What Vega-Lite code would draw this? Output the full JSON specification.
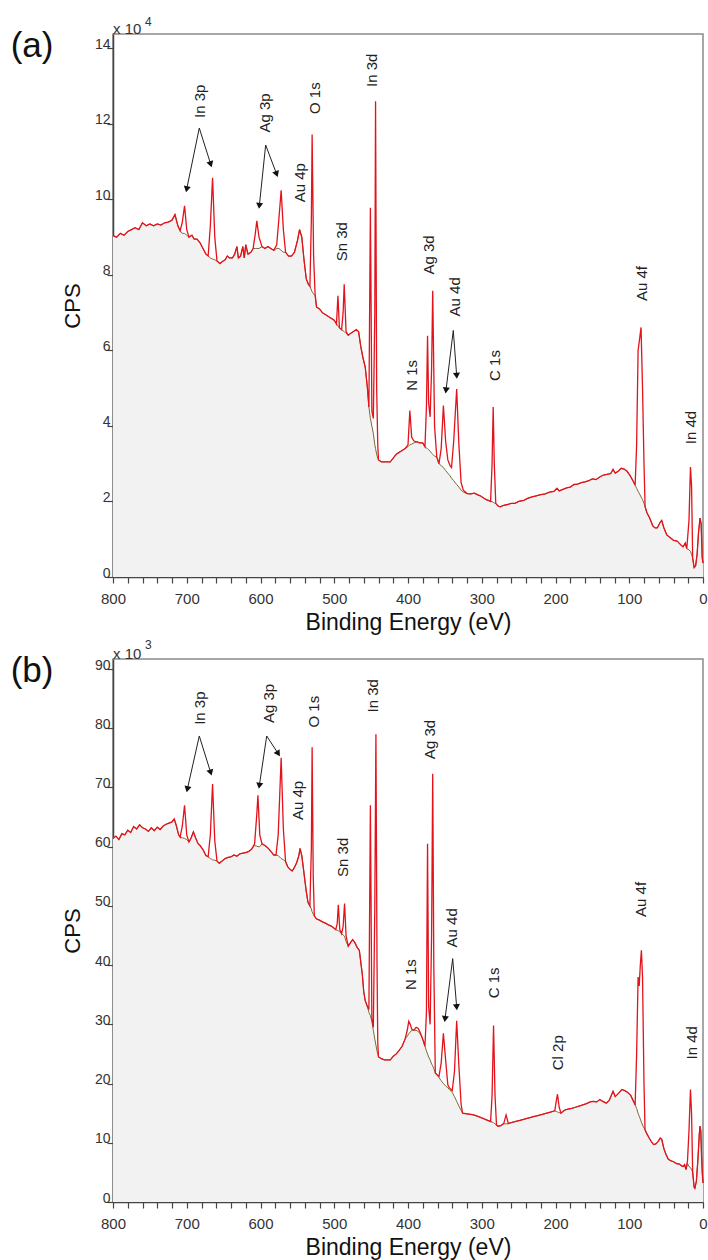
{
"$schema": "https://vega.github.io/schema/vega-lite/v6.json",
"padding": {"left": 9, "top": 14, "right": 2, "bottom": 0},
"spacing": 3,
"config": {
  "font": "Liberation Sans",
  "view": {"stroke": "#8a8a8a", "strokeWidth": 1.5},
  "axis": {"grid": false, "domainColor": "#444444", "domainWidth": 1.5, "tickColor": "#444444", "tickWidth": 1.2, "labelColor": "#333333", "labelFont": "Liberation Sans", "titleFont": "Liberation Sans", "titleFontWeight": "normal", "titleColor": "#111111"}
},
"datasets": {
"spec": [
{"p":"a","E":800,"c":9.04,"b":9.04},{"p":"a","E":795,"c":9.0,"b":9.0},{"p":"a","E":790,"c":9.1,"b":9.1},{"p":"a","E":785,"c":9.05,"b":9.05},{"p":"a","E":780,"c":9.15,"b":9.15},{"p":"a","E":775,"c":9.2,"b":9.2},{"p":"a","E":770,"c":9.25,"b":9.25},{"p":"a","E":765,"c":9.2,"b":9.2},{"p":"a","E":760,"c":9.38,"b":9.38},{"p":"a","E":755,"c":9.3,"b":9.3},{"p":"a","E":750,"c":9.35,"b":9.35},{"p":"a","E":745,"c":9.3,"b":9.3},{"p":"a","E":740,"c":9.35,"b":9.35},{"p":"a","E":735,"c":9.32,"b":9.32},{"p":"a","E":730,"c":9.38,"b":9.38},{"p":"a","E":725,"c":9.4,"b":9.4},{"p":"a","E":720,"c":9.45,"b":9.45},{"p":"a","E":716,"c":9.6,"b":9.6},{"p":"a","E":712,"c":9.3,"b":9.3},{"p":"a","E":709,"c":9.17,"b":9.17},{"p":"a","E":706,"c":9.4,"b":9.1},{"p":"a","E":703,"c":9.83,"b":9.1},{"p":"a","E":700,"c":9.2,"b":9.05},{"p":"a","E":697,"c":9.0,"b":9.0},{"p":"a","E":693,"c":9.05,"b":9.05},{"p":"a","E":690,"c":8.95,"b":8.95},{"p":"a","E":686,"c":8.95,"b":8.95},{"p":"a","E":682,"c":8.85,"b":8.85},{"p":"a","E":678,"c":8.7,"b":8.7},{"p":"a","E":674,"c":8.55,"b":8.55},{"p":"a","E":671,"c":8.5,"b":8.5},{"p":"a","E":668,"c":9.3,"b":8.45},{"p":"a","E":665,"c":10.57,"b":8.42},{"p":"a","E":662,"c":9.0,"b":8.4},{"p":"a","E":659,"c":8.37,"b":8.37},{"p":"a","E":655,"c":8.3,"b":8.3},{"p":"a","E":652,"c":8.35,"b":8.35},{"p":"a","E":648,"c":8.4,"b":8.4},{"p":"a","E":645,"c":8.5,"b":8.5},{"p":"a","E":642,"c":8.45,"b":8.45},{"p":"a","E":638,"c":8.45,"b":8.45},{"p":"a","E":635,"c":8.55,"b":8.55},{"p":"a","E":632,"c":8.75,"b":8.75},{"p":"a","E":630,"c":8.45,"b":8.45},{"p":"a","E":627,"c":8.5,"b":8.5},{"p":"a","E":624,"c":8.75,"b":8.75},{"p":"a","E":622,"c":8.45,"b":8.45},{"p":"a","E":620,"c":8.8,"b":8.8},{"p":"a","E":617,"c":8.55,"b":8.55},{"p":"a","E":613,"c":8.6,"b":8.6},{"p":"a","E":610,"c":8.7,"b":8.7},{"p":"a","E":607,"c":9.1,"b":8.7},{"p":"a","E":605,"c":9.43,"b":8.7},{"p":"a","E":602,"c":9.0,"b":8.7},{"p":"a","E":598,"c":8.75,"b":8.75},{"p":"a","E":594,"c":8.7,"b":8.7},{"p":"a","E":590,"c":8.75,"b":8.75},{"p":"a","E":586,"c":8.7,"b":8.7},{"p":"a","E":582,"c":8.65,"b":8.65},{"p":"a","E":578,"c":8.8,"b":8.7},{"p":"a","E":575,"c":9.5,"b":8.7},{"p":"a","E":572,"c":10.24,"b":8.65},{"p":"a","E":569,"c":9.2,"b":8.6},{"p":"a","E":566,"c":8.6,"b":8.6},{"p":"a","E":562,"c":8.5,"b":8.5},{"p":"a","E":558,"c":8.5,"b":8.5},{"p":"a","E":554,"c":8.6,"b":8.6},{"p":"a","E":550,"c":8.9,"b":8.9},{"p":"a","E":547,"c":9.2,"b":9.2},{"p":"a","E":544,"c":9.0,"b":9.0},{"p":"a","E":541,"c":8.4,"b":8.4},{"p":"a","E":538,"c":7.9,"b":7.9},{"p":"a","E":535,"c":7.75,"b":7.75},{"p":"a","E":533,"c":7.7,"b":7.7},{"p":"a","E":531,"c":9.5,"b":7.6},{"p":"a","E":530,"c":11.72,"b":7.55},{"p":"a","E":528,"c":8.5,"b":7.5},{"p":"a","E":526,"c":7.5,"b":7.45},{"p":"a","E":524,"c":7.15,"b":7.15},{"p":"a","E":520,"c":7.1,"b":7.1},{"p":"a","E":516,"c":7.0,"b":7.0},{"p":"a","E":512,"c":6.95,"b":6.95},{"p":"a","E":508,"c":6.9,"b":6.9},{"p":"a","E":504,"c":6.85,"b":6.85},{"p":"a","E":500,"c":6.8,"b":6.8},{"p":"a","E":497,"c":6.7,"b":6.7},{"p":"a","E":495,"c":7.45,"b":6.65},{"p":"a","E":493,"c":6.6,"b":6.6},{"p":"a","E":490,"c":6.55,"b":6.55},{"p":"a","E":488,"c":7.0,"b":6.52},{"p":"a","E":486.5,"c":7.75,"b":6.5},{"p":"a","E":484,"c":6.5,"b":6.45},{"p":"a","E":481,"c":6.4,"b":6.4},{"p":"a","E":478,"c":6.45,"b":6.45},{"p":"a","E":474,"c":6.5,"b":6.5},{"p":"a","E":470,"c":6.55,"b":6.55},{"p":"a","E":467,"c":6.5,"b":6.5},{"p":"a","E":464,"c":6.1,"b":6.1},{"p":"a","E":461,"c":5.8,"b":5.8},{"p":"a","E":458,"c":5.56,"b":5.56},{"p":"a","E":455,"c":5.0,"b":5.0},{"p":"a","E":453,"c":4.5,"b":4.5},{"p":"a","E":451,"c":9.78,"b":4.2},{"p":"a","E":449,"c":4.4,"b":4.0},{"p":"a","E":447,"c":4.2,"b":3.8},{"p":"a","E":445,"c":7.0,"b":3.5},{"p":"a","E":444,"c":12.6,"b":3.4},{"p":"a","E":442.5,"c":5.0,"b":3.25},{"p":"a","E":441,"c":3.5,"b":3.15},{"p":"a","E":440,"c":3.1,"b":3.1},{"p":"a","E":436,"c":3.05,"b":3.05},{"p":"a","E":432,"c":3.05,"b":3.05},{"p":"a","E":428,"c":3.05,"b":3.05},{"p":"a","E":424,"c":3.05,"b":3.05},{"p":"a","E":420,"c":3.15,"b":3.15},{"p":"a","E":416,"c":3.25,"b":3.25},{"p":"a","E":412,"c":3.3,"b":3.3},{"p":"a","E":408,"c":3.35,"b":3.35},{"p":"a","E":404,"c":3.4,"b":3.4},{"p":"a","E":400,"c":3.5,"b":3.45},{"p":"a","E":397.5,"c":4.41,"b":3.5},{"p":"a","E":395,"c":3.7,"b":3.52},{"p":"a","E":392,"c":3.6,"b":3.55},{"p":"a","E":388,"c":3.58,"b":3.58},{"p":"a","E":384,"c":3.55,"b":3.55},{"p":"a","E":380,"c":3.55,"b":3.55},{"p":"a","E":377,"c":3.45,"b":3.45},{"p":"a","E":375,"c":4.5,"b":3.42},{"p":"a","E":373.5,"c":6.39,"b":3.4},{"p":"a","E":372,"c":4.6,"b":3.37},{"p":"a","E":370,"c":4.24,"b":3.33},{"p":"a","E":368,"c":5.5,"b":3.28},{"p":"a","E":366.5,"c":7.58,"b":3.25},{"p":"a","E":364,"c":4.0,"b":3.2},{"p":"a","E":361,"c":3.18,"b":3.18},{"p":"a","E":358,"c":3.0,"b":3.0},{"p":"a","E":355,"c":3.4,"b":2.95},{"p":"a","E":352,"c":4.54,"b":2.9},{"p":"a","E":349,"c":3.6,"b":2.82},{"p":"a","E":346,"c":3.1,"b":2.75},{"p":"a","E":343,"c":2.95,"b":2.68},{"p":"a","E":341,"c":2.9,"b":2.62},{"p":"a","E":338,"c":3.6,"b":2.55},{"p":"a","E":334,"c":4.98,"b":2.45},{"p":"a","E":331,"c":3.5,"b":2.38},{"p":"a","E":328,"c":2.5,"b":2.3},{"p":"a","E":325,"c":2.3,"b":2.25},{"p":"a","E":320,"c":2.21,"b":2.21},{"p":"a","E":315,"c":2.2,"b":2.2},{"p":"a","E":310,"c":2.22,"b":2.22},{"p":"a","E":306,"c":2.18,"b":2.18},{"p":"a","E":302,"c":2.15,"b":2.15},{"p":"a","E":298,"c":2.1,"b":2.1},{"p":"a","E":294,"c":2.05,"b":2.05},{"p":"a","E":291,"c":2.03,"b":2.03},{"p":"a","E":288,"c":2.0,"b":2.0},{"p":"a","E":286,"c":3.0,"b":2.0},{"p":"a","E":284.5,"c":4.5,"b":1.98},{"p":"a","E":283,"c":3.0,"b":1.96},{"p":"a","E":281,"c":1.95,"b":1.95},{"p":"a","E":278,"c":1.88,"b":1.88},{"p":"a","E":275,"c":1.86,"b":1.86},{"p":"a","E":270,"c":1.9,"b":1.9},{"p":"a","E":265,"c":1.92,"b":1.92},{"p":"a","E":260,"c":1.95,"b":1.95},{"p":"a","E":255,"c":1.95,"b":1.95},{"p":"a","E":250,"c":2.0,"b":2.0},{"p":"a","E":243,"c":2.03,"b":2.03},{"p":"a","E":238,"c":2.08,"b":2.08},{"p":"a","E":232,"c":2.12,"b":2.12},{"p":"a","E":226,"c":2.15,"b":2.15},{"p":"a","E":220,"c":2.18,"b":2.18},{"p":"a","E":214,"c":2.2,"b":2.2},{"p":"a","E":208,"c":2.25,"b":2.25},{"p":"a","E":202,"c":2.27,"b":2.27},{"p":"a","E":198,"c":2.35,"b":2.35},{"p":"a","E":195,"c":2.28,"b":2.28},{"p":"a","E":190,"c":2.32,"b":2.32},{"p":"a","E":185,"c":2.36,"b":2.36},{"p":"a","E":180,"c":2.38,"b":2.38},{"p":"a","E":175,"c":2.45,"b":2.45},{"p":"a","E":170,"c":2.46,"b":2.46},{"p":"a","E":165,"c":2.5,"b":2.5},{"p":"a","E":160,"c":2.52,"b":2.52},{"p":"a","E":155,"c":2.55,"b":2.55},{"p":"a","E":150,"c":2.6,"b":2.6},{"p":"a","E":145,"c":2.58,"b":2.58},{"p":"a","E":140,"c":2.65,"b":2.65},{"p":"a","E":135,"c":2.7,"b":2.7},{"p":"a","E":130,"c":2.72,"b":2.72},{"p":"a","E":125,"c":2.74,"b":2.74},{"p":"a","E":122,"c":2.85,"b":2.85},{"p":"a","E":119,"c":2.75,"b":2.75},{"p":"a","E":115,"c":2.8,"b":2.8},{"p":"a","E":111,"c":2.88,"b":2.88},{"p":"a","E":107,"c":2.86,"b":2.86},{"p":"a","E":103,"c":2.8,"b":2.8},{"p":"a","E":99,"c":2.69,"b":2.69},{"p":"a","E":95,"c":2.55,"b":2.55},{"p":"a","E":92,"c":2.43,"b":2.43},{"p":"a","E":90,"c":3.5,"b":2.35},{"p":"a","E":88,"c":6.0,"b":2.27},{"p":"a","E":86,"c":6.3,"b":2.2},{"p":"a","E":84,"c":6.61,"b":2.12},{"p":"a","E":82,"c":5.0,"b":2.05},{"p":"a","E":80,"c":3.0,"b":1.95},{"p":"a","E":78.5,"c":1.86,"b":1.86},{"p":"a","E":76,"c":1.7,"b":1.7},{"p":"a","E":72,"c":1.55,"b":1.55},{"p":"a","E":68,"c":1.35,"b":1.35},{"p":"a","E":65,"c":1.3,"b":1.3},{"p":"a","E":62,"c":1.3,"b":1.3},{"p":"a","E":58,"c":1.45,"b":1.45},{"p":"a","E":56,"c":1.5,"b":1.5},{"p":"a","E":53,"c":1.3,"b":1.3},{"p":"a","E":49,"c":1.11,"b":1.11},{"p":"a","E":45,"c":1.05,"b":1.05},{"p":"a","E":40,"c":0.97,"b":0.97},{"p":"a","E":35,"c":0.95,"b":0.95},{"p":"a","E":30,"c":0.85,"b":0.85},{"p":"a","E":27,"c":0.8,"b":0.8},{"p":"a","E":24,"c":0.9,"b":0.9},{"p":"a","E":22,"c":0.75,"b":0.75},{"p":"a","E":19,"c":1.5,"b":0.72},{"p":"a","E":17,"c":2.91,"b":0.68},{"p":"a","E":15.5,"c":2.4,"b":0.6},{"p":"a","E":14,"c":0.5,"b":0.5},{"p":"a","E":12,"c":0.25,"b":0.25},{"p":"a","E":10,"c":0.3,"b":0.3},{"p":"a","E":8,"c":0.6,"b":0.6},{"p":"a","E":6,"c":1.2,"b":1.2},{"p":"a","E":4,"c":1.56,"b":1.56},{"p":"a","E":2.5,"c":1.4,"b":1.4},{"p":"a","E":1,"c":0.5,"b":0.5},{"p":"a","E":0,"c":0.37,"b":0.37},
{"p":"b","E":800,"c":61.4,"b":61.4},{"p":"b","E":796,"c":61.8,"b":61.8},{"p":"b","E":792,"c":61.2,"b":61.2},{"p":"b","E":788,"c":62.2,"b":62.2},{"p":"b","E":784,"c":62.0,"b":62.0},{"p":"b","E":780,"c":62.8,"b":62.8},{"p":"b","E":776,"c":62.4,"b":62.4},{"p":"b","E":772,"c":63.4,"b":63.4},{"p":"b","E":768,"c":63.0,"b":63.0},{"p":"b","E":764,"c":63.7,"b":63.7},{"p":"b","E":760,"c":63.2,"b":63.2},{"p":"b","E":756,"c":63.0,"b":63.0},{"p":"b","E":752,"c":62.6,"b":62.6},{"p":"b","E":748,"c":63.2,"b":63.2},{"p":"b","E":744,"c":62.7,"b":62.7},{"p":"b","E":740,"c":63.3,"b":63.3},{"p":"b","E":736,"c":62.9,"b":62.9},{"p":"b","E":732,"c":63.5,"b":63.5},{"p":"b","E":728,"c":63.8,"b":63.8},{"p":"b","E":724,"c":64.0,"b":64.0},{"p":"b","E":720,"c":64.2,"b":64.2},{"p":"b","E":717,"c":64.7,"b":64.7},{"p":"b","E":714,"c":63.5,"b":63.5},{"p":"b","E":711,"c":62.0,"b":62.0},{"p":"b","E":709,"c":61.6,"b":61.6},{"p":"b","E":706,"c":63.5,"b":61.5},{"p":"b","E":703,"c":67.0,"b":61.4},{"p":"b","E":700,"c":62.0,"b":61.2},{"p":"b","E":697,"c":60.8,"b":60.8},{"p":"b","E":694,"c":61.5,"b":61.5},{"p":"b","E":691,"c":62.5,"b":62.5},{"p":"b","E":688,"c":61.5,"b":61.5},{"p":"b","E":685,"c":60.6,"b":60.6},{"p":"b","E":682,"c":60.2,"b":60.2},{"p":"b","E":678,"c":59.5,"b":59.5},{"p":"b","E":674,"c":58.5,"b":58.5},{"p":"b","E":671,"c":58.3,"b":58.3},{"p":"b","E":668,"c":62.0,"b":58.0},{"p":"b","E":665,"c":70.6,"b":57.8},{"p":"b","E":662,"c":61.0,"b":57.7},{"p":"b","E":659,"c":57.6,"b":57.6},{"p":"b","E":656,"c":57.2,"b":57.2},{"p":"b","E":652,"c":57.6,"b":57.6},{"p":"b","E":648,"c":58.0,"b":58.0},{"p":"b","E":644,"c":58.2,"b":58.2},{"p":"b","E":640,"c":58.3,"b":58.3},{"p":"b","E":636,"c":58.6,"b":58.6},{"p":"b","E":632,"c":58.4,"b":58.4},{"p":"b","E":628,"c":58.8,"b":58.8},{"p":"b","E":624,"c":58.9,"b":58.9},{"p":"b","E":620,"c":59.0,"b":59.0},{"p":"b","E":616,"c":59.2,"b":59.2},{"p":"b","E":612,"c":59.6,"b":59.6},{"p":"b","E":608,"c":60.5,"b":60.2},{"p":"b","E":605,"c":65.5,"b":60.1},{"p":"b","E":603.5,"c":68.7,"b":60.0},{"p":"b","E":601,"c":62.0,"b":60.0},{"p":"b","E":598,"c":60.5,"b":60.5},{"p":"b","E":594,"c":60.2,"b":60.2},{"p":"b","E":590,"c":59.8,"b":59.8},{"p":"b","E":586,"c":59.2,"b":59.2},{"p":"b","E":582,"c":58.6,"b":58.6},{"p":"b","E":579,"c":58.6,"b":58.6},{"p":"b","E":576,"c":62.0,"b":58.5},{"p":"b","E":572,"c":75.0,"b":58.0},{"p":"b","E":569,"c":63.0,"b":57.8},{"p":"b","E":566,"c":57.5,"b":57.5},{"p":"b","E":563,"c":56.6,"b":56.6},{"p":"b","E":560,"c":56.2,"b":56.2},{"p":"b","E":557,"c":55.9,"b":55.9},{"p":"b","E":554,"c":56.5,"b":56.5},{"p":"b","E":551,"c":57.3,"b":57.3},{"p":"b","E":548,"c":58.5,"b":58.5},{"p":"b","E":546.4,"c":59.7,"b":59.7},{"p":"b","E":544,"c":58.5,"b":58.5},{"p":"b","E":541,"c":55.5,"b":55.5},{"p":"b","E":538,"c":52.5,"b":52.5},{"p":"b","E":535.6,"c":50.6,"b":50.6},{"p":"b","E":533,"c":50.0,"b":50.0},{"p":"b","E":531,"c":60.0,"b":49.5},{"p":"b","E":530,"c":76.8,"b":49.0},{"p":"b","E":528.5,"c":55.0,"b":48.6},{"p":"b","E":527,"c":48.3,"b":48.3},{"p":"b","E":524,"c":47.8,"b":47.8},{"p":"b","E":520,"c":47.6,"b":47.6},{"p":"b","E":516,"c":47.3,"b":47.3},{"p":"b","E":512,"c":47.1,"b":47.1},{"p":"b","E":508,"c":46.8,"b":46.8},{"p":"b","E":504,"c":46.6,"b":46.6},{"p":"b","E":501,"c":46.3,"b":46.3},{"p":"b","E":498,"c":46.0,"b":46.0},{"p":"b","E":496,"c":47.0,"b":45.9},{"p":"b","E":494.5,"c":50.2,"b":45.8},{"p":"b","E":492.5,"c":46.0,"b":45.6},{"p":"b","E":490,"c":45.3,"b":45.3},{"p":"b","E":488,"c":46.5,"b":45.1},{"p":"b","E":486,"c":50.4,"b":44.9},{"p":"b","E":484,"c":45.0,"b":44.0},{"p":"b","E":481,"c":43.2,"b":43.2},{"p":"b","E":478,"c":43.8,"b":43.8},{"p":"b","E":475,"c":44.3,"b":44.3},{"p":"b","E":472,"c":43.8,"b":43.8},{"p":"b","E":469,"c":43.0,"b":43.0},{"p":"b","E":466,"c":42.5,"b":42.5},{"p":"b","E":462,"c":38.5,"b":38.5},{"p":"b","E":460,"c":35.5,"b":35.5},{"p":"b","E":458,"c":34.0,"b":34.0},{"p":"b","E":455,"c":33.0,"b":33.0},{"p":"b","E":453,"c":32.5,"b":32.0},{"p":"b","E":451,"c":67.0,"b":31.5},{"p":"b","E":449,"c":31.0,"b":30.5},{"p":"b","E":447,"c":29.5,"b":29.0},{"p":"b","E":445,"c":50.0,"b":27.5},{"p":"b","E":443.5,"c":79.0,"b":26.5},{"p":"b","E":442,"c":40.0,"b":25.5},{"p":"b","E":441,"c":27.0,"b":25.0},{"p":"b","E":440,"c":24.5,"b":24.5},{"p":"b","E":436,"c":24.2,"b":24.2},{"p":"b","E":432,"c":24.0,"b":24.0},{"p":"b","E":428,"c":24.0,"b":24.0},{"p":"b","E":424,"c":24.0,"b":24.0},{"p":"b","E":420,"c":24.6,"b":24.6},{"p":"b","E":416,"c":25.0,"b":25.0},{"p":"b","E":412,"c":25.6,"b":25.6},{"p":"b","E":408,"c":26.3,"b":26.3},{"p":"b","E":404,"c":27.5,"b":27.5},{"p":"b","E":401,"c":29.0,"b":28.0},{"p":"b","E":399,"c":30.5,"b":28.4},{"p":"b","E":397,"c":30.0,"b":28.7},{"p":"b","E":395,"c":29.2,"b":29.0},{"p":"b","E":392,"c":29.0,"b":29.0},{"p":"b","E":389,"c":29.5,"b":29.0},{"p":"b","E":386,"c":29.3,"b":28.8},{"p":"b","E":383,"c":28.5,"b":28.3},{"p":"b","E":380,"c":27.5,"b":27.5},{"p":"b","E":377,"c":26.3,"b":26.3},{"p":"b","E":375,"c":32.0,"b":25.5},{"p":"b","E":373.5,"c":60.5,"b":25.0},{"p":"b","E":372,"c":33.0,"b":24.5},{"p":"b","E":370,"c":30.0,"b":24.0},{"p":"b","E":368,"c":45.0,"b":23.3},{"p":"b","E":366.5,"c":72.3,"b":23.0},{"p":"b","E":365,"c":40.0,"b":22.5},{"p":"b","E":363,"c":21.8,"b":21.8},{"p":"b","E":360,"c":21.4,"b":21.4},{"p":"b","E":358,"c":21.2,"b":21.0},{"p":"b","E":355,"c":23.5,"b":20.5},{"p":"b","E":352,"c":28.5,"b":20.0},{"p":"b","E":349,"c":24.0,"b":19.6},{"p":"b","E":346,"c":19.8,"b":19.3},{"p":"b","E":344,"c":19.3,"b":19.0},{"p":"b","E":340,"c":18.8,"b":18.5},{"p":"b","E":337,"c":22.0,"b":17.8},{"p":"b","E":334,"c":30.6,"b":17.0},{"p":"b","E":331,"c":23.0,"b":16.2},{"p":"b","E":328,"c":16.5,"b":15.5},{"p":"b","E":326,"c":15.0,"b":15.0},{"p":"b","E":320,"c":14.9,"b":14.9},{"p":"b","E":315,"c":14.8,"b":14.8},{"p":"b","E":311,"c":14.7,"b":14.7},{"p":"b","E":306,"c":14.5,"b":14.5},{"p":"b","E":300,"c":14.2,"b":14.2},{"p":"b","E":296,"c":14.0,"b":14.0},{"p":"b","E":292,"c":13.8,"b":13.8},{"p":"b","E":288,"c":13.6,"b":13.6},{"p":"b","E":286,"c":18.0,"b":13.5},{"p":"b","E":284,"c":29.8,"b":13.4},{"p":"b","E":282,"c":18.0,"b":13.2},{"p":"b","E":280,"c":13.0,"b":13.0},{"p":"b","E":278,"c":12.8,"b":12.8},{"p":"b","E":274,"c":12.9,"b":12.9},{"p":"b","E":270,"c":13.3,"b":13.2},{"p":"b","E":267,"c":14.7,"b":13.2},{"p":"b","E":264,"c":13.3,"b":13.2},{"p":"b","E":260,"c":13.4,"b":13.4},{"p":"b","E":254,"c":13.6,"b":13.6},{"p":"b","E":248,"c":13.8,"b":13.8},{"p":"b","E":242,"c":14.0,"b":14.0},{"p":"b","E":236,"c":14.2,"b":14.2},{"p":"b","E":230,"c":14.4,"b":14.4},{"p":"b","E":224,"c":14.6,"b":14.6},{"p":"b","E":218,"c":14.8,"b":14.8},{"p":"b","E":212,"c":15.0,"b":15.0},{"p":"b","E":206,"c":15.2,"b":15.2},{"p":"b","E":201,"c":15.4,"b":15.4},{"p":"b","E":199,"c":17.0,"b":15.3},{"p":"b","E":197.3,"c":18.2,"b":15.2},{"p":"b","E":195,"c":16.0,"b":15.1},{"p":"b","E":192.6,"c":15.0,"b":15.0},{"p":"b","E":188,"c":15.5,"b":15.5},{"p":"b","E":183,"c":15.7,"b":15.7},{"p":"b","E":178,"c":15.8,"b":15.8},{"p":"b","E":173,"c":16.0,"b":16.0},{"p":"b","E":168,"c":16.2,"b":16.2},{"p":"b","E":163,"c":16.4,"b":16.4},{"p":"b","E":158,"c":16.6,"b":16.6},{"p":"b","E":153,"c":16.9,"b":16.9},{"p":"b","E":149,"c":17.0,"b":17.0},{"p":"b","E":144,"c":16.9,"b":16.9},{"p":"b","E":140,"c":17.3,"b":17.3},{"p":"b","E":136,"c":17.0,"b":17.0},{"p":"b","E":131,"c":16.7,"b":16.7},{"p":"b","E":127,"c":17.2,"b":17.2},{"p":"b","E":122,"c":18.7,"b":18.7},{"p":"b","E":119,"c":17.8,"b":17.8},{"p":"b","E":115,"c":18.3,"b":18.3},{"p":"b","E":110,"c":19.0,"b":19.0},{"p":"b","E":106,"c":18.8,"b":18.8},{"p":"b","E":102,"c":18.5,"b":18.5},{"p":"b","E":98,"c":18.0,"b":18.0},{"p":"b","E":95,"c":17.2,"b":17.2},{"p":"b","E":92,"c":16.4,"b":16.4},{"p":"b","E":90,"c":25.0,"b":15.8},{"p":"b","E":88,"c":38.0,"b":15.0},{"p":"b","E":86.5,"c":36.5,"b":14.5},{"p":"b","E":85,"c":40.0,"b":14.0},{"p":"b","E":83.5,"c":42.5,"b":13.5},{"p":"b","E":82,"c":38.0,"b":13.0},{"p":"b","E":80,"c":20.0,"b":12.5},{"p":"b","E":78.6,"c":12.2,"b":12.2},{"p":"b","E":76,"c":11.5,"b":11.5},{"p":"b","E":73,"c":10.8,"b":10.8},{"p":"b","E":70,"c":10.2,"b":10.2},{"p":"b","E":67,"c":9.7,"b":9.7},{"p":"b","E":64,"c":9.8,"b":9.8},{"p":"b","E":61,"c":10.2,"b":10.2},{"p":"b","E":58,"c":10.8,"b":10.8},{"p":"b","E":56,"c":10.6,"b":10.6},{"p":"b","E":53,"c":9.0,"b":9.0},{"p":"b","E":50,"c":8.0,"b":8.0},{"p":"b","E":47,"c":7.2,"b":7.2},{"p":"b","E":44,"c":7.0,"b":7.0},{"p":"b","E":40,"c":6.8,"b":6.8},{"p":"b","E":36,"c":6.5,"b":6.5},{"p":"b","E":32,"c":6.4,"b":6.4},{"p":"b","E":29,"c":6.1,"b":6.1},{"p":"b","E":27,"c":6.0,"b":6.0},{"p":"b","E":25,"c":6.3,"b":6.3},{"p":"b","E":23,"c":5.5,"b":5.5},{"p":"b","E":21,"c":7.0,"b":6.5},{"p":"b","E":19,"c":12.0,"b":6.0},{"p":"b","E":17,"c":19.0,"b":5.8},{"p":"b","E":15.5,"c":15.0,"b":5.5},{"p":"b","E":14,"c":5.0,"b":5.0},{"p":"b","E":12,"c":2.5,"b":2.5},{"p":"b","E":11,"c":2.3,"b":2.3},{"p":"b","E":9,"c":3.5,"b":3.5},{"p":"b","E":7,"c":7.0,"b":7.0},{"p":"b","E":5,"c":11.5,"b":11.5},{"p":"b","E":4,"c":12.8,"b":12.8},{"p":"b","E":3,"c":12.0,"b":12.0},{"p":"b","E":2,"c":8.0,"b":8.0},{"p":"b","E":1,"c":5.0,"b":5.0},{"p":"b","E":0,"c":3.2,"b":3.2}
],
"labels": [
{"p":"a","k":"peak","t":"In 3p","E":682.0,"v":12.6},{"p":"a","k":"peak","t":"Ag 3p","E":593.9,"v":12.29},{"p":"a","k":"peak","t":"Au 4p","E":545.8,"v":10.44},{"p":"a","k":"peak","t":"O 1s","E":526.1,"v":12.68},{"p":"a","k":"peak","t":"Sn 3d","E":489.5,"v":8.88},{"p":"a","k":"peak","t":"In 3d","E":448.8,"v":13.42},{"p":"a","k":"peak","t":"Ag 3d","E":371.5,"v":8.53},{"p":"a","k":"peak","t":"Au 4d","E":336.3,"v":7.42},{"p":"a","k":"peak","t":"N 1s","E":394.6,"v":5.34},{"p":"a","k":"peak","t":"C 1s","E":282.0,"v":5.6},{"p":"a","k":"peak","t":"Au 4f","E":82.7,"v":7.77},{"p":"a","k":"peak","t":"In 4d","E":16.3,"v":3.96},
{"p":"a","k":"tag","t":"(a)","E":909.8,"v":14.05},{"p":"a","k":"exp","t":"x 10","E":800,"v":14.38},{"p":"a","k":"sup","t":"4","E":756.6,"v":14.6},
{"p":"b","k":"peak","t":"In 3p","E":682.0,"v":83.4},{"p":"b","k":"peak","t":"Ag 3p","E":588.5,"v":84.2},{"p":"b","k":"peak","t":"Au 4p","E":549.2,"v":67.8},{"p":"b","k":"peak","t":"O 1s","E":527.5,"v":82.8},{"p":"b","k":"peak","t":"Sn 3d","E":488.8,"v":58.2},{"p":"b","k":"peak","t":"In 3d","E":448.1,"v":85.5},{"p":"b","k":"peak","t":"Ag 3d","E":370.2,"v":78.1},{"p":"b","k":"peak","t":"N 1s","E":395.9,"v":38.4},{"p":"b","k":"peak","t":"Au 4d","E":340.3,"v":46.3},{"p":"b","k":"peak","t":"C 1s","E":283.4,"v":37.0},{"p":"b","k":"peak","t":"Cl 2p","E":196.6,"v":25.2},{"p":"b","k":"peak","t":"Au 4f","E":84.0,"v":51.1},{"p":"b","k":"peak","t":"In 4d","E":14.9,"v":26.9},
{"p":"b","k":"tag","t":"(b)","E":909.8,"v":89.7},{"p":"b","k":"exp","t":"x 10","E":800,"v":91.7},{"p":"b","k":"sup","t":"3","E":756.6,"v":93.4}
],
"arrows": [
{"p":"a","E0":683.0,"v0":11.89,"E1":700.1,"v1":10.27},{"p":"a","E0":683.0,"v0":11.89,"E1":667.5,"v1":10.93},
{"p":"a","E0":593.0,"v0":11.44,"E1":601.6,"v1":9.83},{"p":"a","E0":593.0,"v0":11.44,"E1":578.1,"v1":10.67},
{"p":"a","E0":338.6,"v0":6.53,"E1":348.5,"v1":4.94},{"p":"a","E0":338.6,"v0":6.53,"E1":334.0,"v1":5.33},
{"p":"b","E0":683.0,"v0":78.7,"E1":699.2,"v1":69.7},{"p":"b","E0":683.0,"v0":78.7,"E1":667.5,"v1":72.5},
{"p":"b","E0":591.6,"v0":78.7,"E1":601.6,"v1":70.3},{"p":"b","E0":591.6,"v0":78.7,"E1":575.9,"v1":75.7},
{"p":"b","E0":339.4,"v0":41.1,"E1":349.8,"v1":30.9},{"p":"b","E0":339.4,"v0":41.1,"E1":334.0,"v1":32.9}
]
},
"resolve": {"scale": {"x": "independent", "y": "independent"}},
"vconcat": [
{
 "width": 590, "height": 543,
 "layer": [
  {"data": {"name": "spec"}, "transform": [{"filter": "datum.p == 'a'"}],
   "mark": {"type": "area", "color": "#f2f2f2", "interpolate": "linear"},
   "encoding": {
     "x": {"field": "E", "type": "quantitative", "scale": {"domain": [0, 800], "reverse": true, "nice": false, "zero": false},
       "axis": {"values": [0,20,40,60,80,100,120,140,160,180,200,220,240,260,280,300,320,340,360,380,400,420,440,460,480,500,520,540,560,580,600,620,640,660,680,700,720,740,760,780,800], "tickCount": 41, "format": "d", "labelExpr": "datum.value % 100 == 0 ? datum.label : ''", "tickSize": 6, "labelPadding": 8, "labelFontSize": 15, "labelFlush": false, "labelOverlap": false, "title": "Binding Energy (eV)", "titleFontSize": 23, "titlePadding": 5}},
     "y": {"field": "b", "type": "quantitative", "scale": {"domain": [0, 14.38], "nice": false, "zero": true},
       "axis": {"values": [0,2,4,6,8,10,12,14], "tickCount": 8, "tickSize": 6, "labelPadding": -3, "labelBaseline": "alphabetic", "labelFontSize": 14, "title": "CPS", "titleFontSize": 22, "titlePadding": 10}}
   }},
  {"data": {"name": "spec"}, "transform": [{"filter": "datum.p == 'a'"}],
   "mark": {"type": "line", "color": "#7a6a30", "strokeWidth": 1},
   "encoding": {"x": {"field": "E", "type": "quantitative", "scale": {"domain": [0, 800], "reverse": true, "nice": false}}, "y": {"field": "b", "type": "quantitative", "scale": {"domain": [0, 14.38], "nice": false}}}},
  {"data": {"name": "spec"}, "transform": [{"filter": "datum.p == 'a'"}],
   "mark": {"type": "line", "color": "#e3121b", "strokeWidth": 1.3},
   "encoding": {"x": {"field": "E", "type": "quantitative", "scale": {"domain": [0, 800], "reverse": true, "nice": false}}, "y": {"field": "c", "type": "quantitative", "scale": {"domain": [0, 14.38], "nice": false}}}},
  {"data": {"name": "arrows"}, "transform": [{"filter": "datum.p == 'a'"}],
   "mark": {"type": "rule", "color": "#222222", "strokeWidth": 1},
   "encoding": {"x": {"field": "E0", "type": "quantitative", "scale": {"domain": [0, 800], "reverse": true, "nice": false}}, "y": {"field": "v0", "type": "quantitative", "scale": {"domain": [0, 14.38], "nice": false}}, "x2": {"field": "E1"}, "y2": {"field": "v1"}}},
  {"data": {"name": "arrows"}, "transform": [{"filter": "datum.p == 'a'"}, {"calculate": "atan2(-(datum.E0 - datum.E1) * 0.7375, (datum.v0 - datum.v1) * 37.8) * 180 / PI", "as": "ang"}],
   "mark": {"type": "point", "shape": "triangle-down", "filled": true, "color": "#111111", "size": 50, "opacity": 1},
   "encoding": {"x": {"field": "E1", "type": "quantitative", "scale": {"domain": [0, 800], "reverse": true, "nice": false}}, "y": {"field": "v1", "type": "quantitative", "scale": {"domain": [0, 14.38], "nice": false}}, "angle": {"field": "ang", "type": "quantitative", "scale": null}}},
  {"data": {"name": "labels"}, "transform": [{"filter": "datum.p == 'a' && datum.k == 'peak'"}],
   "mark": {"type": "text", "angle": 270, "fontSize": 15, "align": "center", "baseline": "middle", "color": "#222222"},
   "encoding": {"x": {"field": "E", "type": "quantitative", "scale": {"domain": [0, 800], "reverse": true, "nice": false}}, "y": {"field": "v", "type": "quantitative", "scale": {"domain": [0, 14.38], "nice": false}}, "text": {"field": "t"}}},
  {"data": {"name": "labels"}, "transform": [{"filter": "datum.p == 'a' && datum.k == 'tag'"}],
   "mark": {"type": "text", "fontSize": 35, "align": "center", "baseline": "middle", "color": "#111111"},
   "encoding": {"x": {"field": "E", "type": "quantitative", "scale": {"domain": [0, 800], "reverse": true, "nice": false}}, "y": {"field": "v", "type": "quantitative", "scale": {"domain": [0, 14.38], "nice": false}}, "text": {"field": "t"}}},
  {"data": {"name": "labels"}, "transform": [{"filter": "datum.p == 'a' && datum.k == 'exp'"}],
   "mark": {"type": "text", "fontSize": 15, "align": "left", "baseline": "alphabetic", "color": "#333333"},
   "encoding": {"x": {"field": "E", "type": "quantitative", "scale": {"domain": [0, 800], "reverse": true, "nice": false}}, "y": {"field": "v", "type": "quantitative", "scale": {"domain": [0, 14.38], "nice": false}}, "text": {"field": "t"}}},
  {"data": {"name": "labels"}, "transform": [{"filter": "datum.p == 'a' && datum.k == 'sup'"}],
   "mark": {"type": "text", "fontSize": 12, "align": "left", "baseline": "alphabetic", "color": "#333333"},
   "encoding": {"x": {"field": "E", "type": "quantitative", "scale": {"domain": [0, 800], "reverse": true, "nice": false}}, "y": {"field": "v", "type": "quantitative", "scale": {"domain": [0, 14.38], "nice": false}}, "text": {"field": "t"}}}
 ]
},
{
 "width": 590, "height": 543,
 "layer": [
  {"data": {"name": "spec"}, "transform": [{"filter": "datum.p == 'b'"}],
   "mark": {"type": "area", "color": "#f2f2f2", "interpolate": "linear"},
   "encoding": {
     "x": {"field": "E", "type": "quantitative", "scale": {"domain": [0, 800], "reverse": true, "nice": false, "zero": false},
       "axis": {"values": [0,20,40,60,80,100,120,140,160,180,200,220,240,260,280,300,320,340,360,380,400,420,440,460,480,500,520,540,560,580,600,620,640,660,680,700,720,740,760,780,800], "tickCount": 41, "format": "d", "labelExpr": "datum.value % 100 == 0 ? datum.label : ''", "tickSize": 6, "labelPadding": 8, "labelFontSize": 15, "labelFlush": false, "labelOverlap": false, "title": "Binding Energy (eV)", "titleFontSize": 23, "titlePadding": 5}},
     "y": {"field": "b", "type": "quantitative", "scale": {"domain": [0, 91.7], "nice": false, "zero": true},
       "axis": {"values": [0,10,20,30,40,50,60,70,80,90], "tickCount": 10, "tickSize": 6, "labelPadding": -3, "labelBaseline": "alphabetic", "labelFontSize": 14, "title": "CPS", "titleFontSize": 22, "titlePadding": 10}}
   }},
  {"data": {"name": "spec"}, "transform": [{"filter": "datum.p == 'b'"}],
   "mark": {"type": "line", "color": "#7a6a30", "strokeWidth": 1},
   "encoding": {"x": {"field": "E", "type": "quantitative", "scale": {"domain": [0, 800], "reverse": true, "nice": false}}, "y": {"field": "b", "type": "quantitative", "scale": {"domain": [0, 91.7], "nice": false}}}},
  {"data": {"name": "spec"}, "transform": [{"filter": "datum.p == 'b'"}],
   "mark": {"type": "line", "color": "#e3121b", "strokeWidth": 1.3},
   "encoding": {"x": {"field": "E", "type": "quantitative", "scale": {"domain": [0, 800], "reverse": true, "nice": false}}, "y": {"field": "c", "type": "quantitative", "scale": {"domain": [0, 91.7], "nice": false}}}},
  {"data": {"name": "arrows"}, "transform": [{"filter": "datum.p == 'b'"}],
   "mark": {"type": "rule", "color": "#222222", "strokeWidth": 1},
   "encoding": {"x": {"field": "E0", "type": "quantitative", "scale": {"domain": [0, 800], "reverse": true, "nice": false}}, "y": {"field": "v0", "type": "quantitative", "scale": {"domain": [0, 91.7], "nice": false}}, "x2": {"field": "E1"}, "y2": {"field": "v1"}}},
  {"data": {"name": "arrows"}, "transform": [{"filter": "datum.p == 'b'"}, {"calculate": "atan2(-(datum.E0 - datum.E1) * 0.7375, (datum.v0 - datum.v1) * 5.927) * 180 / PI", "as": "ang"}],
   "mark": {"type": "point", "shape": "triangle-down", "filled": true, "color": "#111111", "size": 50, "opacity": 1},
   "encoding": {"x": {"field": "E1", "type": "quantitative", "scale": {"domain": [0, 800], "reverse": true, "nice": false}}, "y": {"field": "v1", "type": "quantitative", "scale": {"domain": [0, 91.7], "nice": false}}, "angle": {"field": "ang", "type": "quantitative", "scale": null}}},
  {"data": {"name": "labels"}, "transform": [{"filter": "datum.p == 'b' && datum.k == 'peak'"}],
   "mark": {"type": "text", "angle": 270, "fontSize": 15, "align": "center", "baseline": "middle", "color": "#222222"},
   "encoding": {"x": {"field": "E", "type": "quantitative", "scale": {"domain": [0, 800], "reverse": true, "nice": false}}, "y": {"field": "v", "type": "quantitative", "scale": {"domain": [0, 91.7], "nice": false}}, "text": {"field": "t"}}},
  {"data": {"name": "labels"}, "transform": [{"filter": "datum.p == 'b' && datum.k == 'tag'"}],
   "mark": {"type": "text", "fontSize": 35, "align": "center", "baseline": "middle", "color": "#111111"},
   "encoding": {"x": {"field": "E", "type": "quantitative", "scale": {"domain": [0, 800], "reverse": true, "nice": false}}, "y": {"field": "v", "type": "quantitative", "scale": {"domain": [0, 91.7], "nice": false}}, "text": {"field": "t"}}},
  {"data": {"name": "labels"}, "transform": [{"filter": "datum.p == 'b' && datum.k == 'exp'"}],
   "mark": {"type": "text", "fontSize": 15, "align": "left", "baseline": "alphabetic", "color": "#333333"},
   "encoding": {"x": {"field": "E", "type": "quantitative", "scale": {"domain": [0, 800], "reverse": true, "nice": false}}, "y": {"field": "v", "type": "quantitative", "scale": {"domain": [0, 91.7], "nice": false}}, "text": {"field": "t"}}},
  {"data": {"name": "labels"}, "transform": [{"filter": "datum.p == 'b' && datum.k == 'sup'"}],
   "mark": {"type": "text", "fontSize": 12, "align": "left", "baseline": "alphabetic", "color": "#333333"},
   "encoding": {"x": {"field": "E", "type": "quantitative", "scale": {"domain": [0, 800], "reverse": true, "nice": false}}, "y": {"field": "v", "type": "quantitative", "scale": {"domain": [0, 91.7], "nice": false}}, "text": {"field": "t"}}}
 ]
}
]
}
